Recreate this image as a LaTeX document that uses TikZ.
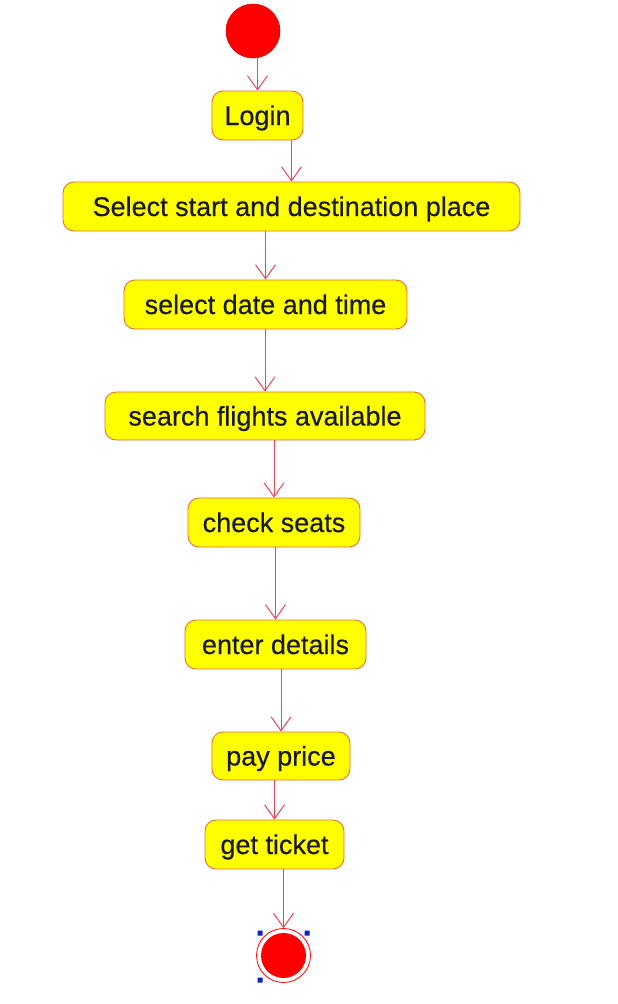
\documentclass[tikz,border=0pt]{standalone}
\usepackage{fontspec}
\setmainfont{Liberation Sans}
\newfontfamily\actfont[FakeBold=0.4]{Liberation Sans}
\usetikzlibrary{arrows.meta}
\definecolor{actfill}{RGB}{255,255,0}
\definecolor{actline}{RGB}{228,110,60}
\definecolor{flowline}{RGB}{232,72,84}
\definecolor{dotred}{RGB}{255,0,0}
\definecolor{handle}{RGB}{20,30,200}
\begin{document}
\begin{tikzpicture}[x=1pt,y=-1pt,
    act/.style={draw=actline,line width=0.9pt,fill=actfill,rounded corners=11pt,
        minimum height=49pt,inner sep=0pt,text height=22pt,text depth=3pt,
        font=\actfont\fontsize{27}{30}\selectfont,text=black!90},
    flow/.style={draw=flowline,line width=1pt,-{Straight Barb[length=14pt,width=20pt,line width=1pt]}}]
            \useasboundingbox (0,0) rectangle (618,1004);
            \node[circle,fill=dotred,draw=red!85!black,line width=0.6pt,minimum size=54pt,inner sep=0pt] (start) at (253,31) {};
            \node[act,minimum width=91pt] (login) at (257.5,115.5) {Login};
            \node[act,minimum width=457pt] (place) at (291.5,206.5) {Select start and destination place};
            \node[act,minimum width=283pt] (date) at (265.5,304.5) {select date and time};
            \node[act,minimum width=320pt,minimum height=48pt] (search) at (265,416) {search flights available};
            \node[act,minimum width=172pt] (seats) at (274,522.5) {check seats};
            \node[act,minimum width=181pt] (details) at (275.5,644.5) {enter details};
            \node[act,minimum width=138pt,minimum height=48pt] (pay) at (281,756) {pay price};
            \node[act,minimum width=139pt] (ticket) at (274.5,844.5) {get ticket};
            \node[circle,draw=dotred,line width=0.8pt,fill=white,minimum size=54pt,inner sep=0pt] (end) at (283.5,955.5) {};
            \fill[dotred] (end.center) circle (22.5pt);
            \draw[flow] (login |- start.south) -- (login.north);
            \draw[flow] (place |- login.south) -- (place.north);
            \draw[flow] (date |- place.south) -- (date.north);
            \draw[flow] (search |- date.south) -- (search.north);
            \draw[flow] (seats |- search.south) -- (seats.north);
            \draw[flow] (details |- seats.south) -- (details.north);
            \draw[flow] (pay |- details.south) -- (pay.north);
            \draw[flow] (ticket |- pay.south) -- (ticket.north);
            \draw[flow] (end |- ticket.south) -- (end.north);
            % selection handles
            \fill[handle] ([shift={(-26,-25)}]end.center) rectangle +(5,5)
                ([shift={(21,-25)}]end.center) rectangle +(5,5)
                ([shift={(-26,22)}]end.center) rectangle +(5,5);
        \end{tikzpicture}
\end{document}
